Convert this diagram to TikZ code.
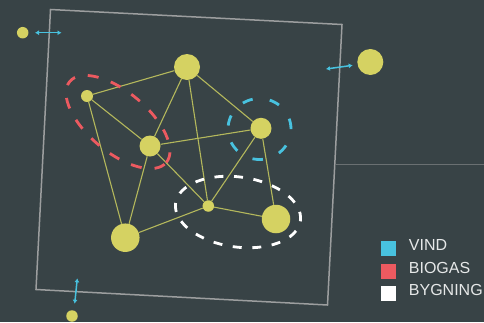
\documentclass[tikz,border=0pt]{standalone}
\usepackage{fontspec}
\setmainfont{Liberation Sans}
\usetikzlibrary{arrows.meta}
\definecolor{bgc}{HTML}{384346}
\definecolor{framec}{HTML}{9C9E9F}
\definecolor{hlinec}{HTML}{6A7072}
\definecolor{nodec}{HTML}{D5D262}
\definecolor{edgec}{HTML}{B4B85C}
\definecolor{windc}{HTML}{48C2DF}
\definecolor{bioc}{HTML}{EC5A60}
\definecolor{txtc}{HTML}{E6E8E8}
\pgfdeclarelayer{bglayer}
\pgfdeclarelayer{edgelayer}
\pgfsetlayers{bglayer,edgelayer,main}
\tikzset{
  dot/.style={circle, fill=nodec, inner sep=0pt, minimum size=#1},
  edge/.style={draw=edgec, line width=1.1pt},
  ring/.style={line width=2.8pt},
  link/.style={draw=windc, line width=1.5pt, {Latex[length=4pt,width=5pt]}-{Latex[length=4pt,width=5pt]}},
  legsq/.style={minimum size=15pt, inner sep=0pt},
  legtxt/.style={anchor=base west, inner sep=0pt, text=txtc, font=\fontsize{16}{16}\selectfont}
}
\begin{document}
\begin{tikzpicture}[x=1pt,y=-1pt]
\begin{pgfonlayer}{bglayer}
\fill[bgc] (0,0) rectangle (484,322);
\end{pgfonlayer}
\useasboundingbox (0,0) rectangle (484,322);
% frame
\draw[framec, line width=1.5pt, line join=miter] (50.5,9.5) -- (342,24.5) -- (327.5,305) -- (36,289.5) -- cycle;
\draw[hlinec, line width=1.5pt] (335,164.3) -- (484,164.3);
% nodes
\node[dot=12pt] (A) at (87,96) {};
\node[dot=26pt] (B) at (187,67) {};
\node[dot=21pt] (C) at (150,146) {};
\node[dot=21pt] (D) at (261,128.3) {};
\node[dot=11.5pt] (E) at (208.3,206) {};
\node[dot=28.5pt] (F) at (125.3,237.7) {};
\node[dot=28.5pt] (G) at (276,219) {};
\node[dot=11.5pt] (P) at (22.7,32.7) {};
\node[dot=26pt] (Q) at (370.3,62) {};
\node[dot=11.5pt] (R) at (72,316) {};
% edges
\begin{pgfonlayer}{edgelayer}
\foreach \a/\b in {A/B,A/C,A/F,B/C,B/D,B/E,C/D,C/E,C/F,D/E,D/G,E/F,E/G}
  \draw[edge] (\a) -- (\b);
\end{pgfonlayer}
% dashed groups
\draw[bioc, ring, dash pattern=on 11pt off 13pt, shift={(118,122)}, rotate=-40] (0,0) ellipse [x radius=63pt, y radius=30pt];
\draw[windc, ring, dash pattern=on 10.5pt off 17.3pt] (259.5,129) ellipse [x radius=31.5pt, y radius=30.5pt];
\draw[white, ring, dash pattern=on 9pt off 10.6pt, shift={(238,212)}, rotate=-8] (0,0) ellipse [x radius=63pt, y radius=35pt];
% links
\coordinate (l1a) at (35,32.7); \coordinate (l1b) at (61.5,32.7);
\coordinate (l2a) at (326,69); \coordinate (l2b) at (352.7,65.3);
\coordinate (l3a) at (77.3,278.3); \coordinate (l3b) at (74.7,303.7);
\draw[link] (l1a) -- (l1b);
\draw[link] (l2a) -- (l2b);
\draw[link] (l3a) -- (l3b);
% legend
\node[legsq, fill=windc] (s1) at (388.5,248.5) {};
\node[legsq, fill=bioc] (s2) at (388.5,271.2) {};
\node[legsq, fill=white] (s3) at (388.5,293.5) {};
\node[legtxt] (t1) at (408.7,250.4) {VIND};
\node[legtxt] (t2) at (408.7,273.2) {BIOGAS};
\node[legtxt] (t3) at (408.7,295.4) {BYGNING};
\end{tikzpicture}
\end{document}
